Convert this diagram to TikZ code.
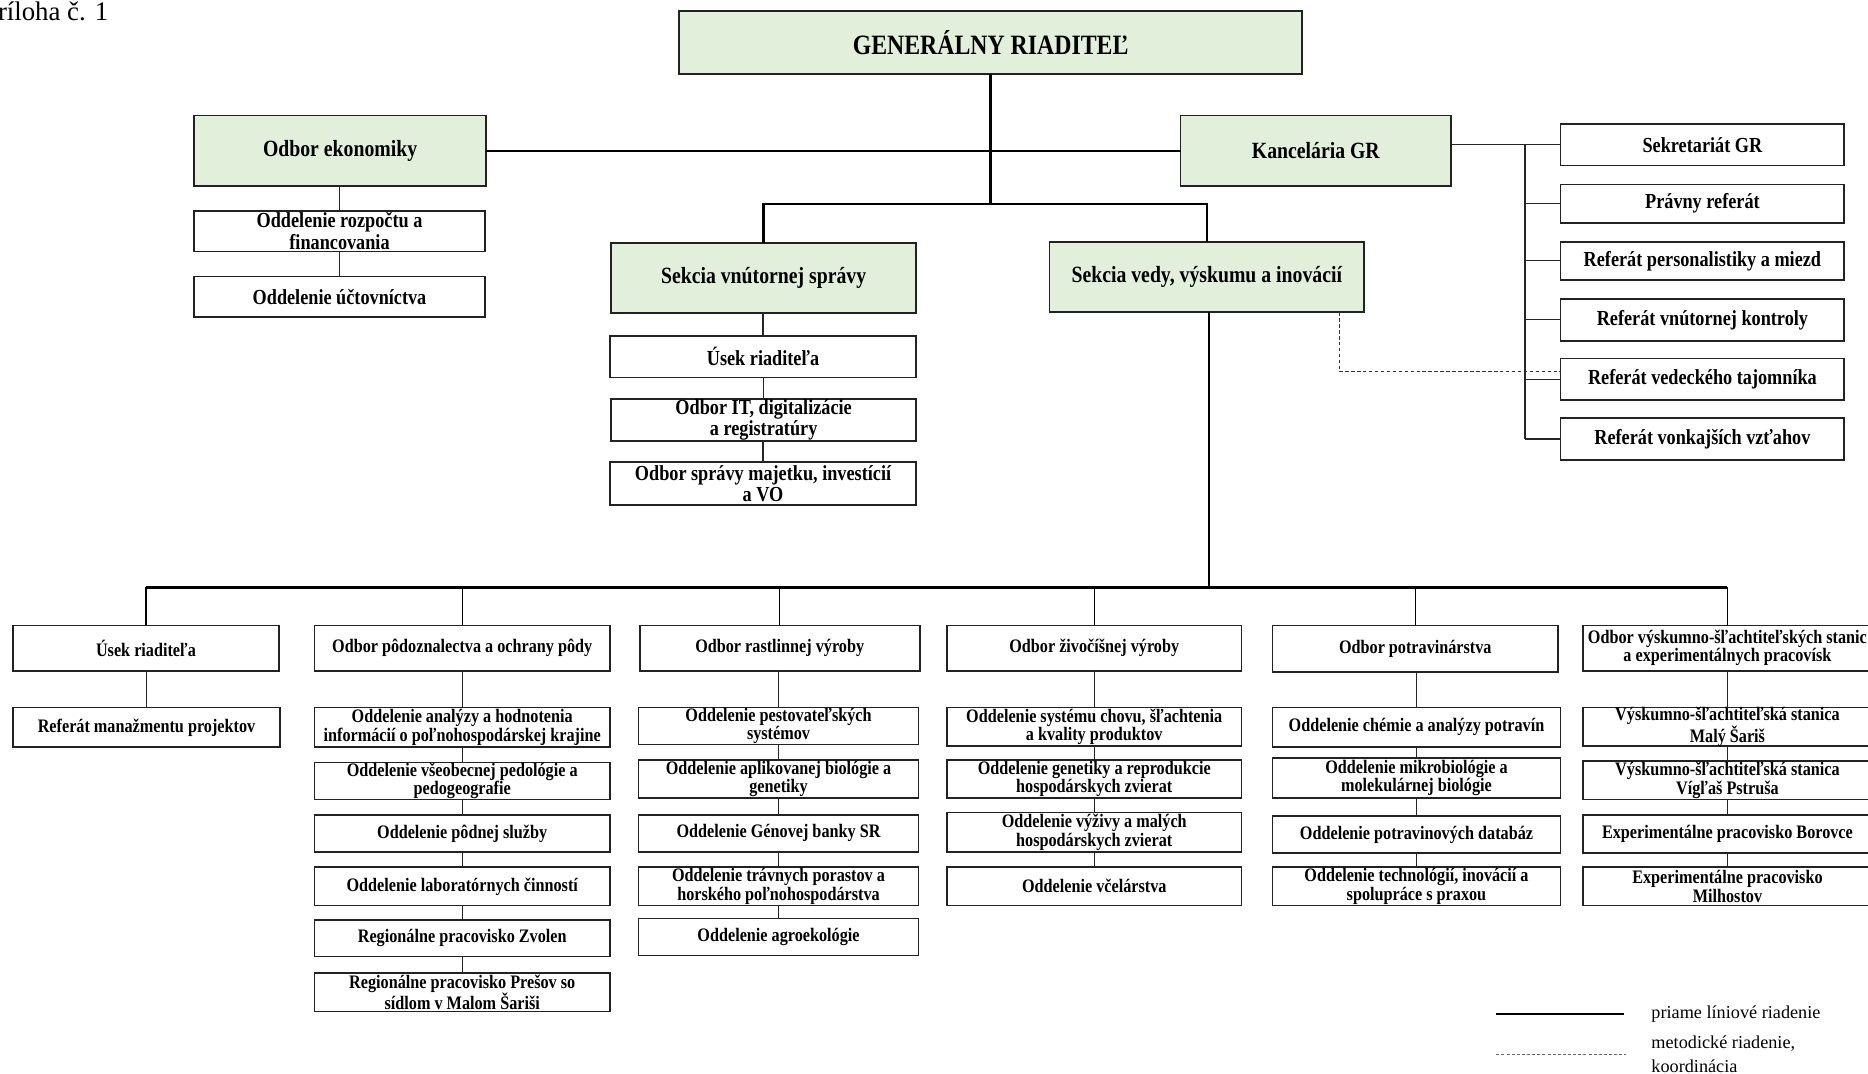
\documentclass[tikz,border=0pt]{standalone}
\usepackage{fontspec}
\setmainfont{Liberation Serif}
\newfontfamily\cond{Liberation Serif}[FakeStretch=0.85]
\usetikzlibrary{fit}
\definecolor{grn0}{HTML}{E2EFDA}
\definecolor{bord}{HTML}{222222}
\newcommand\fGR{\cond\bfseries\fontsize{23.5}{25}\selectfont}
\newcommand\fGn{\cond\bfseries\fontsize{19.5}{21}\selectfont}
\newcommand\fSm{\cond\bfseries\fontsize{18}{18}\selectfont}
\newcommand\fBt{\cond\bfseries\fontsize{16}{15.5}\selectfont}
\newcommand\fLg{\fontsize{15.3}{20}\selectfont}
\newcommand\orgbox[8]{\node[#6, fit={(#2,#3) (#4,#5)}, label={[lab,font=#7]center:{#8}}] (#1) {};}
\tikzset{
  bx/.style={draw=bord, line width=1.4pt, inner sep=0pt, outer sep=0pt, fill=white},
  grb/.style={bx, fill=grn0},
  lab/.style={align=center, inner sep=0pt, text=black},
  main/.style={line width=2pt, black},
  thin/.style={line width=1pt, black!85},
  mid/.style={line width=1.2pt, black},
  dsh/.style={line width=0.9pt, black!80, dash pattern=on 3pt off 2pt},
}
\begin{document}
\begin{tikzpicture}[x=1pt,y=-1pt]
\useasboundingbox (0,0) rectangle (1568,901);
\fill[white] (0,0) rectangle (1568,901);

\node[anchor=base east, font=\fontsize{22.5}{24}\selectfont, inner sep=0pt] (pr) at (91,17) {Príloha č. 1};

% top level
\orgbox{gr}{570}{9}{1093}{62}{grb}{\fGR}{GENERÁLNY RIADITEĽ}
\orgbox{oe}{163}{97}{408}{156}{grb}{\fGn}{Odbor ekonomiky}
\orgbox{kan}{991}{97}{1218}{156}{grb}{\fGn}{Kancelária GR}
\orgbox{svs}{513}{204}{769}{263}{grb}{\fGn}{Sekcia vnútornej správy}
\orgbox{svv}{881}{203}{1145}{262}{grb}{\fGn}{Sekcia vedy, výskumu a inovácií}

\orgbox{ek1}{163}{177}{407}{211}{bx}{\fSm}{Oddelenie rozpočtu a\\financovania}
\orgbox{ek2}{163}{232}{407}{266}{bx}{\fSm}{Oddelenie účtovníctva}

\orgbox{sv1}{512}{282}{769}{317}{bx}{\fSm}{Úsek riaditeľa}
\orgbox{sv2}{513}{335}{769}{370}{bx}{\fSm}{Odbor IT, digitalizácie\\a registratúry}
\orgbox{sv3}{512}{388}{769}{424}{bx}{\fSm}{Odbor správy majetku, investícií\\a VO}

\orgbox{r1}{1310}{104}{1548}{139}{bx}{\fSm}{Sekretariát GR}
\orgbox{r2}{1310}{155}{1548}{187}{bx}{\fSm}{Právny referát}
\orgbox{r3}{1310}{203}{1548}{235}{bx}{\fSm}{Referát personalistiky a miezd}
\orgbox{r4}{1310}{251}{1548}{286}{bx}{\fSm}{Referát vnútornej kontroly}
\orgbox{r5}{1310}{301}{1548}{336}{bx}{\fSm}{Referát vedeckého tajomníka}
\orgbox{r6}{1310}{351}{1548}{386}{bx}{\fSm}{Referát vonkajších vzťahov}

% bottom headers
\orgbox{c1}{11}{525}{234}{563}{bx}{\fBt}{Úsek riaditeľa}
\orgbox{c2}{264}{525}{512}{563}{bx}{\fBt}{Odbor pôdoznalectva a ochrany pôdy}
\orgbox{c3}{537}{525}{772}{563}{bx}{\fBt}{Odbor rastlinnej výroby}
\orgbox{c4}{795}{525}{1042}{563}{bx}{\fBt}{Odbor živočíšnej výroby}
\orgbox{c5}{1068}{525}{1308}{564}{bx}{\fBt}{Odbor potravinárstva}
\orgbox{c6}{1329}{525}{1571}{563}{bx}{\fBt}{Odbor výskumno-šľachtiteľských stanic\\a experimentálnych pracovísk}

\orgbox{c1a}{11}{594}{235}{627}{bx}{\fBt}{Referát manažmentu projektov}

\orgbox{c2a}{264}{594}{512}{627}{bx}{\fBt}{Oddelenie analýzy a hodnotenia\\informácií o poľnohospodárskej krajine}
\orgbox{c2b}{264}{640}{512}{671}{bx}{\fBt}{Oddelenie všeobecnej pedológie a\\pedogeografie}
\orgbox{c2c}{264}{684}{512}{715}{bx}{\fBt}{Oddelenie pôdnej služby}
\orgbox{c2d}{264}{728}{512}{760}{bx}{\fBt}{Oddelenie laboratórnych činností}
\orgbox{c2e}{264}{772}{512}{803}{bx}{\fBt}{Regionálne pracovisko Zvolen}
\orgbox{c2f}{264}{817}{512}{849}{bx}{\fBt}{Regionálne pracovisko Prešov so\\sídlom v Malom Šariši}

\orgbox{c3a}{536}{594}{771}{625}{bx}{\fBt}{Oddelenie pestovateľských\\systémov}
\orgbox{c3b}{536}{638}{771}{670}{bx}{\fBt}{Oddelenie aplikovanej biológie a\\genetiky}
\orgbox{c3c}{536}{684}{771}{715}{bx}{\fBt}{Oddelenie Génovej banky SR}
\orgbox{c3d}{536}{728}{771}{760}{bx}{\fBt}{Oddelenie trávnych porastov a\\horského poľnohospodárstva}
\orgbox{c3e}{536}{771}{771}{802}{bx}{\fBt}{Oddelenie agroekológie}

\orgbox{c4a}{795}{594}{1042}{626}{bx}{\fBt}{Oddelenie systému chovu, šľachtenia\\a kvality produktov}
\orgbox{c4b}{795}{638}{1042}{670}{bx}{\fBt}{Oddelenie genetiky a reprodukcie\\hospodárskych zvierat}
\orgbox{c4c}{795}{682}{1042}{715}{bx}{\fBt}{Oddelenie výživy a malých\\hospodárskych zvierat}
\orgbox{c4d}{795}{728}{1042}{760}{bx}{\fBt}{Oddelenie včelárstva}

\orgbox{c5a}{1068}{594}{1310}{627}{bx}{\fBt}{Oddelenie chémie a analýzy potravín}
\orgbox{c5b}{1068}{636}{1310}{670}{bx}{\fBt}{Oddelenie mikrobiológie a\\molekulárnej biológie}
\orgbox{c5c}{1068}{685}{1310}{716}{bx}{\fBt}{Oddelenie potravinových databáz}
\orgbox{c5d}{1068}{728}{1310}{760}{bx}{\fBt}{Oddelenie technológií, inovácií a\\spolupráce s praxou}

\orgbox{c6a}{1329}{594}{1571}{626}{bx}{\fBt}{Výskumno-šľachtiteľská stanica\\Malý Šariš}
\orgbox{c6b}{1329}{639}{1571}{671}{bx}{\fBt}{Výskumno-šľachtiteľská stanica\\Vígľaš Pstruša}
\orgbox{c6c}{1329}{684}{1571}{716}{bx}{\fBt}{Experimentálne pracovisko Borovce}
\orgbox{c6d}{1329}{728}{1571}{760}{bx}{\fBt}{Experimentálne pracovisko\\Milhostov}

% coordinates
\coordinate (j1) at (831.5,171);
\coordinate (sp) at (1280,0);
\coordinate (dj) at (1124,312);
\coordinate (bus) at (1015,493);

% connectors
\draw[main] (gr.south) -- (j1);
\draw[main] (oe.east) -- (kan.west);
\draw[main] (svs.north) |- (j1) -| (svv.north);
\draw[thin] (ek1.north) -- (ek1.north |- oe.south);
\draw[thin] (ek2.north) -- (ek2.north |- ek1.south);
\draw[thin] (sv1.north) -- (sv1.north |- svs.south);
\draw[thin] (sv2.north) -- (sv2.north |- sv1.south);
\draw[thin] (sv3.north) -- (sv3.north |- sv2.south);

\draw[thin] (kan.east |- r1.west) -- (r1.west);
\draw[thin] (sp |- r1.west) -- (sp |- r6.west);
\foreach \r in {r2,r3,r4,r5,r6} { \draw[thin] (sp |- \r.west) -- (\r.west); }
\draw[dsh] (svv.south -| dj) -- (dj) -- (dj -| r5.west);

\draw[main] (bus |- svv.south) -- (bus);
\draw[main] (c1.north |- bus) -- (c6.north |- bus);
\foreach \c in {c1,c2,c3,c4,c5,c6} { \draw[mid] (\c.north) -- (\c.north |- bus); }

\draw[thin] (c1a.north) -- (c1a.north |- c1.south);
\draw[thin] (c2a.north) -- (c2a.north |- c2.south);
\draw[thin] (c2b.north) -- (c2b.north |- c2a.south);
\draw[thin] (c2c.north) -- (c2c.north |- c2b.south);
\draw[thin] (c2d.north) -- (c2d.north |- c2c.south);
\draw[thin] (c2e.north) -- (c2e.north |- c2d.south);
\draw[thin] (c2f.north) -- (c2f.north |- c2e.south);
\draw[thin] (c3a.north) -- (c3a.north |- c3.south);
\draw[thin] (c3b.north) -- (c3b.north |- c3a.south);
\draw[thin] (c3c.north) -- (c3c.north |- c3b.south);
\draw[thin] (c3d.north) -- (c3d.north |- c3c.south);
\draw[thin] (c3e.north) -- (c3e.north |- c3d.south);
\draw[thin] (c4a.north) -- (c4a.north |- c4.south);
\draw[thin] (c4b.north) -- (c4b.north |- c4a.south);
\draw[thin] (c4c.north) -- (c4c.north |- c4b.south);
\draw[thin] (c4d.north) -- (c4d.north |- c4c.south);
\draw[thin] (c5a.north) -- (c5a.north |- c5.south);
\draw[thin] (c5b.north) -- (c5b.north |- c5a.south);
\draw[thin] (c5c.north) -- (c5c.north |- c5b.south);
\draw[thin] (c5d.north) -- (c5d.north |- c5c.south);
\draw[thin] (c6a.north) -- (c6a.north |- c6.south);
\draw[thin] (c6b.north) -- (c6b.north |- c6a.south);
\draw[thin] (c6c.north) -- (c6c.north |- c6b.south);
\draw[thin] (c6d.north) -- (c6d.north |- c6c.south);

% legend
\coordinate (la1) at (1256,851);
\coordinate (la2) at (1363,851);
\coordinate (lb1) at (1256,885);
\coordinate (lb2) at (1365,885);
\draw[line width=2.2pt, black] (la1) -- (la2);
\draw[line width=0.8pt, black!60, dash pattern=on 2.5pt off 1.8pt] (lb1) -- (lb2);
\node[anchor=west, font=\fLg, inner sep=0pt] (lg1) at (1386,851) {priame líniové riadenie};
\node[anchor=north west, align=left, font=\fLg, inner sep=0pt] (lg2) at (1386,869) {metodické riadenie,\\koordinácia};
\end{tikzpicture}
\end{document}
